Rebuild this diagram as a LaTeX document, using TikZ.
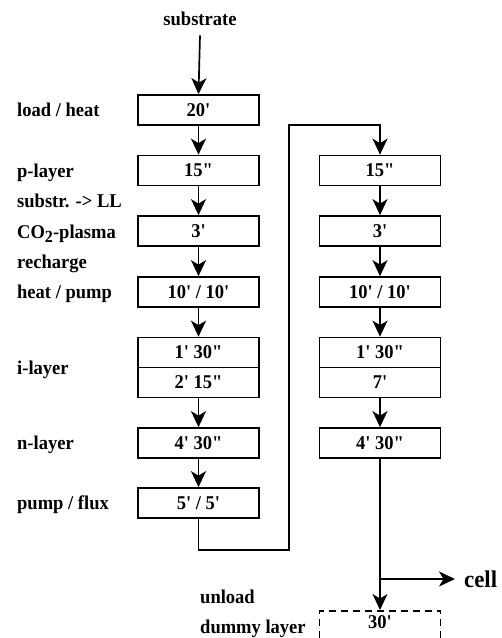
\documentclass[tikz,border=0pt]{standalone}
\usepackage{fontspec}
\setmainfont{Liberation Serif}[Ligatures=TeXOff, FakeStretch=0.95]
\usetikzlibrary{arrows.meta}
\newcommand{\bx}{\bfseries\fontsize{19.5}{21}\selectfont}
\tikzset{
  lbl/.style={anchor=base west, inner sep=0pt, font=\bx},
  txt/.style={inner sep=0pt, font=\bx},
  stepbox/.style={draw, line width=1.7pt, minimum width=121pt, minimum height=30pt, inner sep=0pt, font=\bx},
  arr/.style={line width=1.7pt, -{Stealth[length=16pt,width=15pt,inset=4.5pt]}},
}
\begin{document}
\begin{tikzpicture}[x=1pt,y=-1pt]
\clip (0,0) rectangle (502,638);
\fill[white] (0,0) rectangle (502,638);
% labels
\node[txt, anchor=base] (sub) at (200,25) {substrate};
\node[lbl] (l1) at (17,116) {load / heat};
\node[lbl] (l2) at (17,177) {p-layer};
\node[lbl] (l3) at (17,207) {substr. -> LL};
\node[lbl] (l4) at (17,238) {CO{\fontsize{17}{17}\selectfont\raisebox{-4.5pt}{2}}-plasma};
\node[lbl] (l5) at (17,268) {recharge};
\node[lbl] (l6) at (17,298) {heat / pump};
\node[lbl] (l7) at (17,374) {i-layer};
\node[lbl] (l8) at (17,449) {n-layer};
\node[lbl] (l9) at (17,509) {pump / flux};
\node[lbl] (l10) at (200,603) {unload};
\node[lbl] (l11) at (200,633) {dummy layer};
% left column
\node[stepbox] (a1) at (198.5,110) {20'};
\node[stepbox] (a2) at (198.5,170.5) {15"};
\node[stepbox] (a3) at (198.5,231) {3'};
\node[stepbox] (a4) at (198.5,292) {10' / 10'};
\node[stepbox] (a5) at (198.5,352.5) {1' 30"};
\node[stepbox] (a6) at (198.5,382.5) {2' 15"};
\node[stepbox] (a7) at (198.5,443) {4' 30"};
\node[stepbox] (a8) at (198.5,503) {5' / 5'};
% right column
\node[stepbox] (b2) at (380,170.5) {15"};
\node[stepbox] (b3) at (380,231) {3'};
\node[stepbox] (b4) at (380,292) {10' / 10'};
\node[stepbox] (b5) at (380,352.5) {1' 30"};
\node[stepbox] (b6) at (380,382.5) {7'};
\node[stepbox] (b7) at (380,443) {4' 30"};
% dummy box
\node[draw, dash pattern=on 7pt off 5pt, line width=1.7pt, minimum width=121pt, minimum height=50pt, anchor=north, inner sep=0pt] (d) at (380,610) {};
\node[txt, anchor=base] (dt) at (380,628) {30'};
% cell
\node[inner sep=0pt, anchor=base west, font=\bfseries\fontsize{24}{26}\selectfont] (cell) at (464,587) {cell};
\coordinate (br) at (380,579);
\coordinate (ce) at (455,579);
% connectors
\draw[arr] ([yshift=-10pt]sub.south) -- (a1.north);
\draw[arr] (a1) -- (a2);
\draw[arr] (a2) -- (a3);
\draw[arr] (a3) -- (a4);
\draw[arr] (a4) -- (a5);
\draw[arr] (a6) -- (a7);
\draw[arr] (a7) -- (a8);
\draw[arr] (a8.south) -- ++(0,31) -| (289,125) -| (b2.north);
\draw[arr] (b2) -- (b3);
\draw[arr] (b3) -- (b4);
\draw[arr] (b4) -- (b5);
\draw[arr] (b6) -- (b7);
\draw[arr] (b7) -- (d.north);
\draw[arr] (br) -- (ce);
\end{tikzpicture}
\end{document}
